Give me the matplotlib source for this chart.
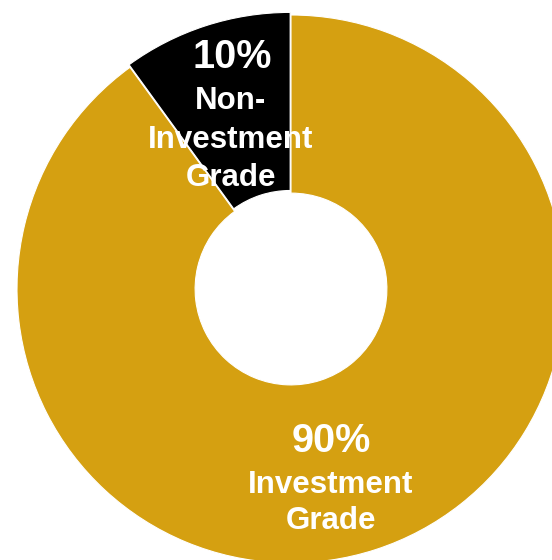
import matplotlib.pyplot as plt

# credit quality split
labels = ['Non-\nInvestment\nGrade', 'Investment\nGrade']
shares = [10, 90]
colors = ['#000000', '#D5A011']

plt.rcParams['font.family'] = ['Liberation Sans', 'DejaVu Sans']

fig = plt.figure(figsize=(5.52, 5.60), dpi=100)
# donut centre sits at (291, 289) px with outer radius 274 px
ax = fig.add_axes([17 / 552, (560 - 563) / 560, 548 / 552, 548 / 560])

wedges, _ = ax.pie(shares, colors=colors, startangle=90, counterclock=True,
                   explode=[0.01, 0],
                   wedgeprops=dict(width=0.65, edgecolor='white', linewidth=0.8))
ax.set_xlim(-1, 1)
ax.set_ylim(-1, 1)
ax.set_aspect('equal')
ax.axis('off')

# label anchor points (percent line, name block)
pct_pos = [(-0.215, 0.847), (0.146, -0.555)]
name_pos = [(-0.220, 0.545), (0.146, -0.782)]
spacing = [1.36, 1.28]

for i in range(len(shares)):
    ax.text(pct_pos[i][0], pct_pos[i][1], '%d%%' % shares[i], color='white',
            fontsize=28.5, fontweight='bold', ha='center', va='center')
    ax.text(name_pos[i][0], name_pos[i][1], labels[i], color='white',
            fontsize=22.5, fontweight='bold', ha='center', va='center',
            linespacing=spacing[i])

fig.savefig('out.png', dpi=100)
